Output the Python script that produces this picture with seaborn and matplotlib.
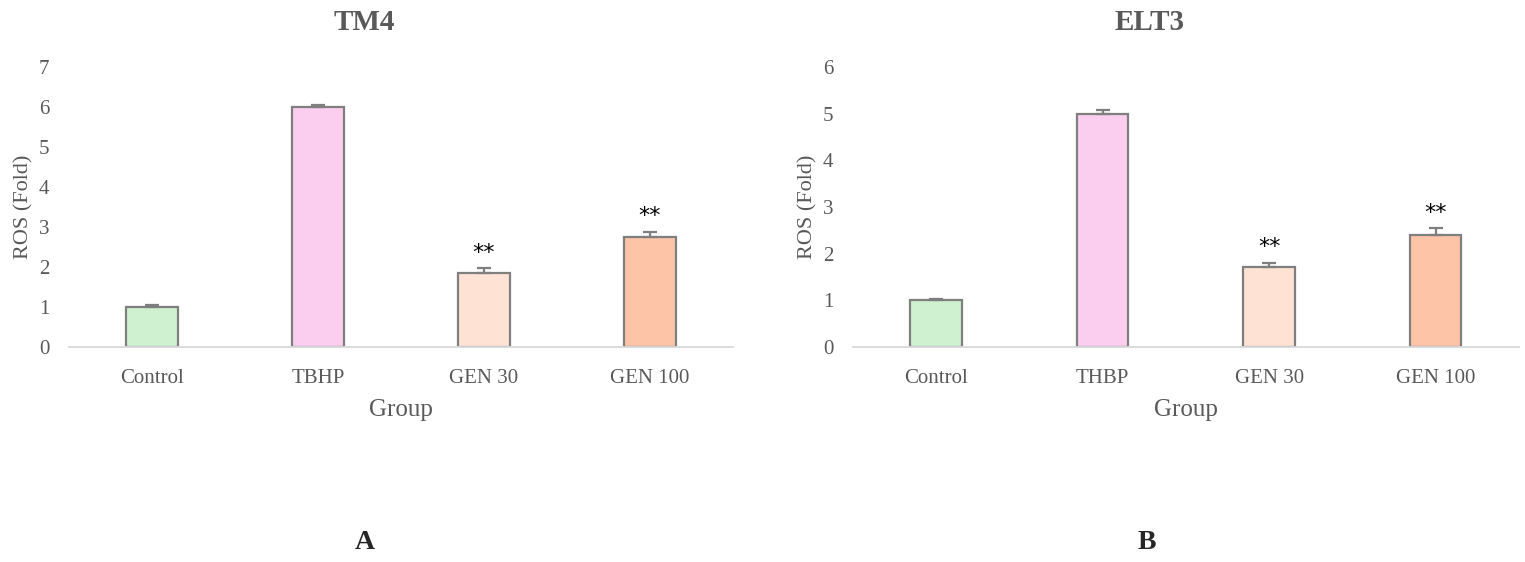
import numpy as np
import pandas as pd
import matplotlib.pyplot as plt
import seaborn as sns

# Valeurs
groups_tm4 = ["Control", "TBHP", "GEN 30", "GEN 100"]
ros_tm4 = [1.0, 6.0, 1.84, 2.75]
err_tm4 = [0.04, 0.04, 0.13, 0.13]
stars_tm4 = ["", "", "**", "**"]

groups_elt3 = ["Control", "THBP", "GEN 30", "GEN 100"]
ros_elt3 = [1.0, 5.0, 1.71, 2.39]
err_elt3 = [0.03, 0.07, 0.09, 0.15]
stars_elt3 = ["", "", "**", "**"]

bar_colors = ["#cff1cf", "#fbcdee", "#fee3d5", "#fdc4a8"]

sns.set_theme(style="white")
plt.rcParams["font.family"] = ["Liberation Serif", "DejaVu Serif"]

grey = "#595959"
fig = plt.figure(figsize=(15.25, 5.62), dpi=100)
ax_a = fig.add_axes([0.0452, 0.3826, 0.4354, 0.498])
ax_b = fig.add_axes([0.5593, 0.3826, 0.4367, 0.498])


def panneau(ax, groupes, valeurs, erreurs, etoiles, titre, ymax):
    df = pd.DataFrame({"Group": groupes, "ROS": valeurs})
    sns.barplot(data=df, x="Group", y="ROS", hue="Group", palette=bar_colors,
                order=groupes, hue_order=groupes, legend=False, errorbar=None,
                saturation=1, width=0.31, edgecolor="#7f7f7f", linewidth=1.6, ax=ax)
    x = np.arange(len(groupes))
    ax.errorbar(x, valeurs, yerr=[np.zeros(len(erreurs)), erreurs], fmt="none",
                ecolor="#7f7f7f", elinewidth=1.6, capsize=5, capthick=1.6, zorder=1)
    for xi, v, e, s in zip(x, valeurs, erreurs, etoiles):
        if s:
            ax.annotate(s, (xi, v + e), xytext=(0, 4), textcoords="offset points",
                        ha="center", va="bottom", fontsize=16, color="black",
                        fontfamily="DejaVu Sans")
    ax.set_ylim(0, ymax)
    ax.set_xlim(-0.5, len(groupes) - 0.5)
    ax.set_yticks(range(ymax + 1))
    sns.despine(ax=ax, left=True)
    ax.spines["bottom"].set_color("#d9d9d9")
    ax.spines["bottom"].set_linewidth(1.3)
    ax.tick_params(axis="both", length=0, labelsize=15, colors=grey)
    ax.tick_params(axis="x", pad=16)
    ax.tick_params(axis="y", pad=14)
    ax.set_xlabel("Group", fontsize=18, color=grey, labelpad=8)
    ax.set_ylabel("ROS (Fold)", fontsize=16, color=grey, labelpad=4)
    ax.set_title(titre, fontsize=21, fontweight="bold", color=grey, pad=27, x=0.445)


panneau(ax_a, groups_tm4, ros_tm4, err_tm4, stars_tm4, "TM4", 7)
panneau(ax_b, groups_elt3, ros_elt3, err_elt3, stars_elt3, "ELT3", 6)

fig.text(0.2393, 0.034, "A", ha="center", va="center", fontsize=20, fontweight="bold")
fig.text(0.752, 0.034, "B", ha="center", va="center", fontsize=20, fontweight="bold")

fig.savefig("out.png", dpi=100, facecolor="white")
plt.close()
